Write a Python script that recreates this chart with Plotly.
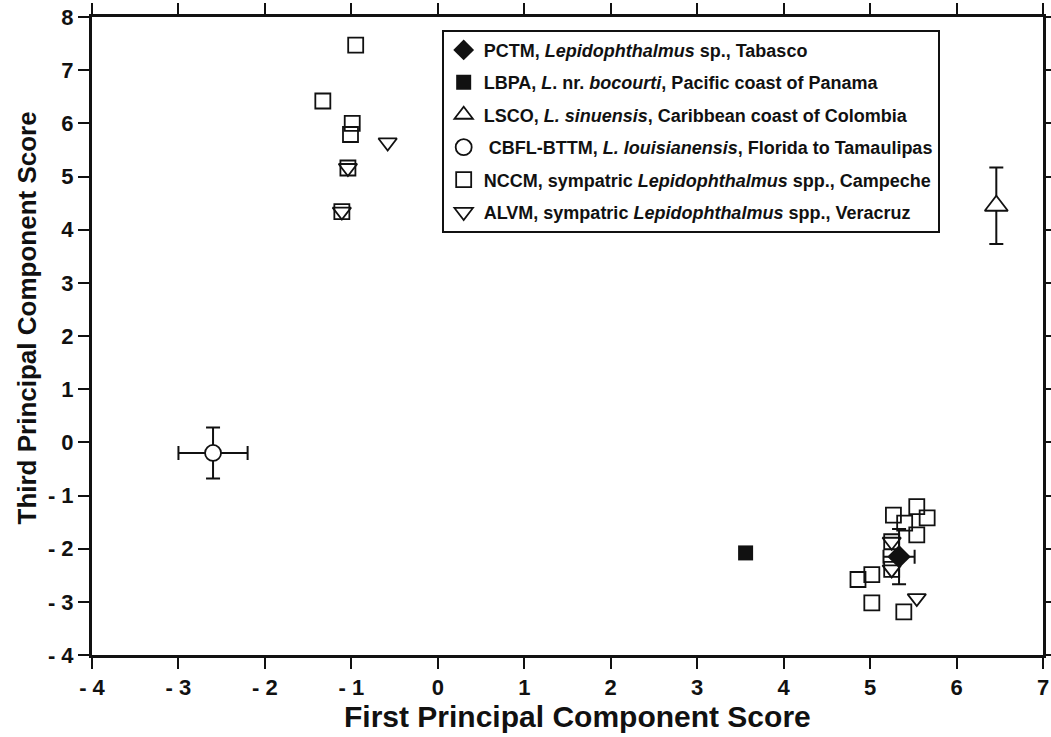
import plotly.graph_objects as go

# ---- data ----
pctm_x = [5.335]; pctm_y = [-2.15]; pctm_ex = [0.18]; pctm_ey = [0.52]
lbpa_x = [3.56]; lbpa_y = [-2.08]
lsco_x = [6.46]; lsco_y = [4.45]; lsco_ey = [0.72]
cbfl_x = [-2.60]; cbfl_y = [-0.20]; cbfl_ex = [0.40]; cbfl_ey = [0.48]
nccm_x = [-0.95, -1.33, -0.99, -1.01, -1.04, -1.11,
          5.54, 5.27, 5.66, 5.40, 5.54, 5.25, 5.25, 4.86, 5.02, 5.02, 5.39]
nccm_y = [7.47, 6.42, 6.00, 5.79, 5.16, 4.34,
          -1.21, -1.37, -1.42, -1.52, -1.74, -1.87, -2.39, -2.58, -2.49, -3.02, -3.19]
alvm_x = [-0.58, -1.04, -1.11, 5.25, 5.25, 5.54]
alvm_y = [5.64, 5.16, 4.34, -1.87, -2.39, -2.93]

x_ticks = [-4, -3, -2, -1, 0, 1, 2, 3, 4, 5, 6, 7]
x_labels = ["- 4", "- 3", "- 2", "- 1", "0", "1", "2", "3", "4", "5", "6", "7"]
y_ticks = [-4, -3, -2, -1, 0, 1, 2, 3, 4, 5, 6, 7, 8]
y_labels = ["- 4", "- 3", "- 2", "- 1", "0", "1", "2", "3", "4", "5", "6", "7", "8"]

x_title = "First Principal Component Score"
y_title = "Third Principal Component Score"

names = [
    "PCTM, <i>Lepidophthalmus</i> sp., Tabasco",
    "LBPA, <i>L</i>. nr. <i>bocourti</i>, Pacific coast of Panama",
    "LSCO, <i>L. sinuensis</i>, Caribbean coast of Colombia",
    " CBFL-BTTM, <i>L. louisianensis</i>, Florida to Tamaulipas",
    "NCCM, sympatric <i>Lepidophthalmus</i> spp., Campeche",
    "ALVM, sympatric <i>Lepidophthalmus</i> spp., Veracruz",
]

FONT = "Liberation Sans, Arial, sans-serif"
BLACK = "#111111"

def err(vals, show=True):
    return dict(type="data", array=vals, visible=show, color=BLACK, thickness=2, width=7)

fig = go.Figure()
fig.add_trace(go.Scatter(x=nccm_x, y=nccm_y, mode="markers", name=names[4], legendrank=5,
                         legendgroup="e",
                         marker=dict(symbol="square-open", size=15, color=BLACK, line=dict(width=1.8))))
fig.add_trace(go.Scatter(x=alvm_x, y=alvm_y, mode="markers", name=names[5], legendrank=6,
                         legendgroup="f",
                         marker=dict(symbol="triangle-down-open", size=16, color=BLACK, line=dict(width=1.8))))
fig.add_trace(go.Scatter(x=lbpa_x, y=lbpa_y, mode="markers", name=names[1], legendrank=2,
                         legendgroup="b",
                         marker=dict(symbol="square", size=15, color=BLACK)))
fig.add_trace(go.Scatter(x=lsco_x, y=lsco_y, mode="markers", name=names[2], legendrank=3,
                         legendgroup="c", error_y=err(lsco_ey),
                         marker=dict(symbol="triangle-up", size=20, color="white",
                                     line=dict(width=1.8, color=BLACK))))
fig.add_trace(go.Scatter(x=cbfl_x, y=cbfl_y, mode="markers", name=names[3], legendrank=4,
                         legendgroup="d", error_x=err(cbfl_ex), error_y=err(cbfl_ey),
                         marker=dict(symbol="circle", size=16, color="white",
                                     line=dict(width=1.8, color=BLACK))))
fig.add_trace(go.Scatter(x=pctm_x, y=pctm_y, mode="markers", name=names[0], legendrank=1,
                         legendgroup="a", error_x=err(pctm_ex), error_y=err(pctm_ey),
                         marker=dict(symbol="diamond", size=18, color=BLACK)))

axis_common = dict(showgrid=False, zeroline=False, showline=True, linewidth=3, linecolor=BLACK,
                   mirror="ticks", ticks="outside", ticklen=11, tickwidth=2, tickcolor=BLACK,
                   automargin=False, ticklabeloverflow="allow",
                   tickfont=dict(family=FONT, size=22, color=BLACK, weight="bold"))

fig.update_xaxes(range=[-4, 7], tickvals=x_ticks, ticktext=x_labels, **axis_common)
fig.update_yaxes(range=[-4, 8], tickvals=y_ticks, ticktext=y_labels, **axis_common)

fig.add_annotation(text=x_title, xref="paper", yref="paper", x=0.51, y=-0.0957,
                   xanchor="center", yanchor="middle", showarrow=False,
                   font=dict(family=FONT, size=30, color=BLACK, weight="bold"))
fig.add_annotation(text=y_title, xref="paper", yref="paper", x=-0.0673, y=0.529,
                   xanchor="center", yanchor="middle", showarrow=False, textangle=-90,
                   font=dict(family=FONT, size=26, color=BLACK, weight="bold"))

fig.update_layout(
    width=1051, height=737,
    margin=dict(l=92, r=8, t=17, b=82),
    paper_bgcolor="white", plot_bgcolor="white",
    showlegend=True,
    legend=dict(x=0.3677, y=0.98, xanchor="left", yanchor="top",
                bgcolor="white", bordercolor=BLACK, borderwidth=2,
                font=dict(family=FONT, size=18, color=BLACK, weight="bold"),
                tracegroupgap=6, itemwidth=30),
)

# remove the browser's default 8px page margin so the figure fills the window exactly
fig.write_html("out.html", config={"displayModeBar": False},
               post_script="document.body.style.margin='0';document.body.style.overflow='hidden';")
